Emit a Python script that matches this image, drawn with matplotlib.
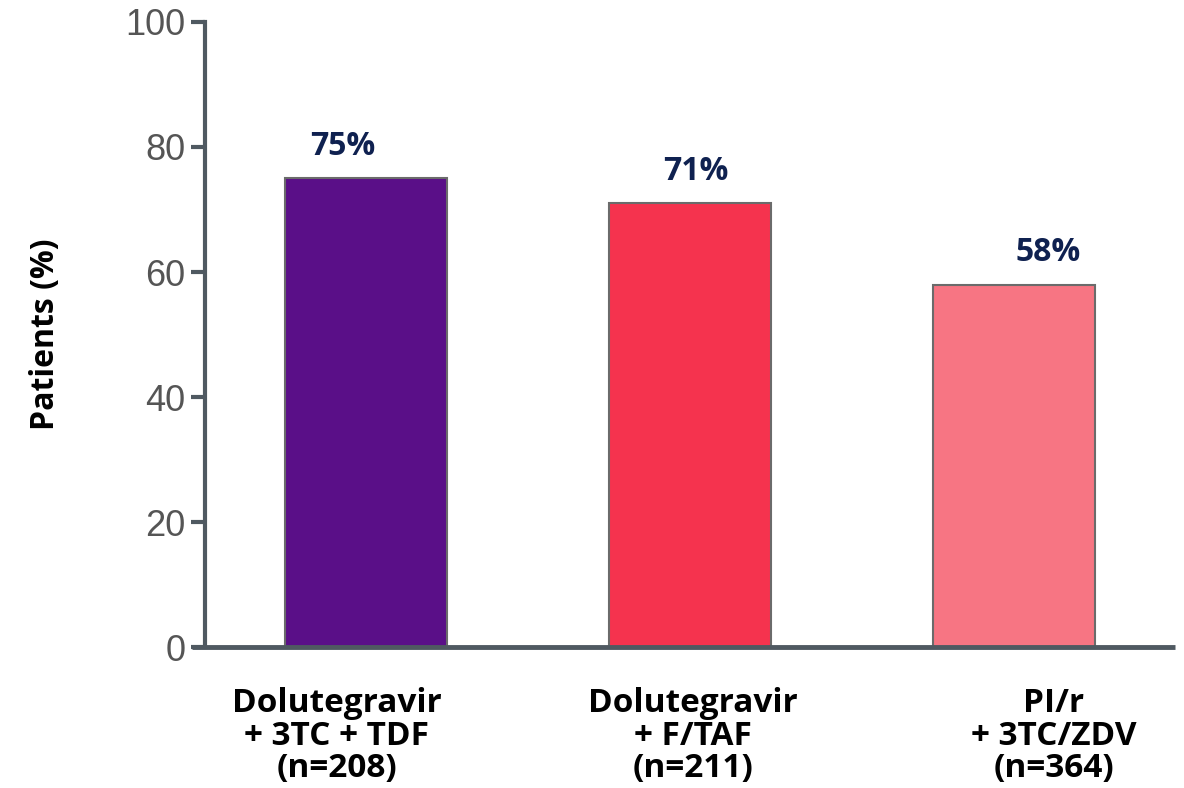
import matplotlib
matplotlib.use("Agg")
import matplotlib.pyplot as plt
import matplotlib.transforms as mtransforms

categories = ["Dolutegravir\n+ 3TC + TDF\n(n=208)",
              "Dolutegravir\n+ F/TAF\n(n=211)",
              "PI/r\n+ 3TC/ZDV\n(n=364)"]
values = [75, 71, 58]
value_labels = ["75%", "71%", "58%"]
yticks = [0, 20, 40, 60, 80, 100]

colors = ["#5a0f88", "#f5334e", "#f77583"]
label_font = "Open Sans"

fig = plt.figure(figsize=(11.84, 7.88), dpi=100)
ax = fig.add_axes([0.1731, 0.1789, 0.8193, 0.7932])

x = list(range(len(values)))
ax.bar(x, values, width=0.5, color=colors, edgecolor="#6b6b6b", linewidth=1.5, zorder=2)

ax.set_xlim(-0.497, 2.497)
ax.set_ylim(0, 100)

# spines
for s in ["top", "right"]:
    ax.spines[s].set_visible(False)
axis_color = "#4f5961"
ax.spines["left"].set_color(axis_color)
ax.spines["left"].set_linewidth(3)
ax.spines["bottom"].set_visible(False)
ax.plot([-0.013, 1.0], [0, 0], transform=ax.transAxes, color=axis_color,
        linewidth=3.5, clip_on=False, solid_capstyle="butt", zorder=3)

ax.set_yticks(yticks)
ax.set_yticklabels([str(t) for t in yticks], fontsize=26, color="#555555",
                   family="Liberation Sans")
ax.tick_params(axis="y", direction="out", length=10, width=3, color=axis_color, pad=4)

# category labels
ax.set_xticks(x)
ax.set_xticklabels(categories, fontsize=24, fontweight="bold", family=label_font,
                   color="black", linespacing=0.98)
ax.tick_params(axis="x", length=0, pad=29)
label_shift_px = [-29, 3, 40]
for lbl, dx in zip(ax.get_xticklabels(), label_shift_px):
    lbl.set_transform(lbl.get_transform() +
                      mtransforms.ScaledTranslation(dx / 100, 0, fig.dpi_scale_trans))

# value labels
value_shift_px = [-23, 6, 34]
for xi, v, txt, dx in zip(x, values, value_labels, value_shift_px):
    ax.annotate(txt, (xi, v), xytext=(dx * 0.72, 11), textcoords="offset points",
                ha="center", va="bottom", fontsize=23, fontweight="bold",
                family=label_font, color="#0f2150")

ax.set_ylabel("Patients (%)", fontsize=23, fontweight="bold", family=label_font,
              color="black")
ax.yaxis.set_label_coords(-0.147, 0.5)

fig.savefig("out.png", dpi=100)
